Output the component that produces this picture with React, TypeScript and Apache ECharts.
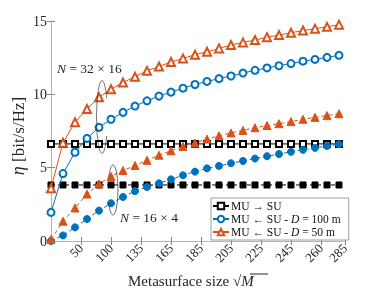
import React, { useEffect, useRef } from "react";
import * as echarts from "echarts";

// sample positions along the (re-labelled) metasurface-size axis
const sampleX = [0, 10, 20, 30, 40, 50, 60, 70, 80, 90, 100, 110, 120, 130, 140, 150, 160, 170, 180, 190, 200, 210, 220, 230, 240];
const xTickValues = [25, 50, 75, 100, 125, 150, 175, 200, 225, 245];
const xTickLabels = ["50", "100", "135", "165", "185", "205", "225", "245", "260", "285"];

// N = 32 x 16
const muToSuLarge = [6.62, 6.62, 6.62, 6.62, 6.62, 6.62, 6.62, 6.62, 6.62, 6.62, 6.62, 6.62, 6.62, 6.62, 6.62, 6.62, 6.62, 6.62, 6.62, 6.62, 6.62, 6.62, 6.62, 6.62, 6.62];
const suToMu100Large = [1.95, 4.6, 6.05, 7.0, 7.75, 8.3, 8.77, 9.2, 9.56, 9.88, 10.15, 10.42, 10.67, 10.88, 11.07, 11.25, 11.45, 11.64, 11.8, 11.95, 12.1, 12.26, 12.38, 12.52, 12.66];
const suToMu50Large = [3.6, 6.7, 8.1, 9.0, 9.8, 10.35, 10.8, 11.2, 11.6, 11.9, 12.2, 12.45, 12.7, 12.9, 13.13, 13.36, 13.54, 13.7, 13.9, 14.04, 14.2, 14.35, 14.48, 14.6, 14.75];
// N = 16 x 4
const muToSuSmall = [3.82, 3.82, 3.82, 3.82, 3.82, 3.82, 3.82, 3.82, 3.82, 3.82, 3.82, 3.82, 3.82, 3.82, 3.82, 3.82, 3.82, 3.82, 3.82, 3.82, 3.82, 3.82, 3.82, 3.82, 3.82];
const suToMu100Small = [0, 0.38, 0.93, 1.5, 2.07, 2.57, 3.0, 3.4, 3.68, 3.93, 4.2, 4.48, 4.73, 4.95, 5.12, 5.3, 5.46, 5.62, 5.78, 5.93, 6.08, 6.22, 6.35, 6.48, 6.6];
const suToMu50Small = [0.1, 1.35, 2.25, 3.2, 3.9, 4.4, 4.8, 5.15, 5.5, 5.85, 6.15, 6.45, 6.68, 6.95, 7.17, 7.37, 7.54, 7.72, 7.87, 8.0, 8.14, 8.3, 8.43, 8.55, 8.68];

const legendNames = ["MU → SU", "MU ← SU - D = 100 m", "MU ← SU - D = 50 m"];

const FONT = "'Liberation Serif', 'Times New Roman', serif";
const BLUE = "#0072BD";
const ORANGE = "#D95319";
const BLACK = "#000000";
const AXIS = "#b3b3b3";
const TXT = "#262626";

const pairs = (ys: number[]) => ys.map((y, i) => [sampleX[i], y]);

export default function App() {
  const ref = useRef<HTMLDivElement>(null);
  useEffect(() => {
    if (!ref.current) return;
    const chart = echarts.init(ref.current, undefined, { renderer: "svg" });
    const lbl = (v: number) => {
      const i = xTickValues.indexOf(v);
      return i >= 0 ? xTickLabels[i] : "";
    };
    const mkSeries = (name: string, ys: number[], color: string, symbol: string, size: number, dashed: boolean, z: number) => ({
      name,
      type: "line",
      data: pairs(ys),
      symbol,
      symbolSize: size,
      showSymbol: true,
      z,
      lineStyle: { color, width: 1, type: dashed ? [4, 3] : "solid" },
      itemStyle: { color, borderColor: color, borderWidth: 1 },
      emphasis: { disabled: true },
      silent: true,
    });
    const italic = (size: number) => ({ fontFamily: FONT, fontSize: size, fontStyle: "italic", fill: TXT, color: TXT });
    const axisCommon = {
      axisLine: { show: true, lineStyle: { color: AXIS, width: 1 } },
      splitLine: { show: false },
    };
    const option: any = {
      animation: false,
      textStyle: { fontFamily: FONT },
      grid: { left: 51, right: 29, top: 21, bottom: 52 },
      xAxis: [
        {
          type: "value",
          min: 0,
          max: 245,
          position: "bottom",
          ...axisCommon,
          axisTick: { show: true, inside: true, length: 4, customValues: xTickValues, lineStyle: { color: "#888" } },
          axisLabel: {
            customValues: xTickValues,
            formatter: lbl,
            rotate: 45,
            fontSize: 13,
            fontFamily: FONT,
            color: TXT,
            margin: 5,
          },
        },
        {
          type: "value",
          min: 0,
          max: 245,
          position: "top",
          ...axisCommon,
          axisTick: { show: true, inside: true, length: 4, customValues: xTickValues, lineStyle: { color: "#888" } },
          axisLabel: { show: false },
        },
      ],
      yAxis: [
        {
          type: "value",
          min: 0,
          max: 15,
          interval: 5,
          position: "left",
          ...axisCommon,
          axisTick: { show: true, inside: true, length: 4, lineStyle: { color: "#888" } },
          axisLabel: { fontSize: 14, fontFamily: FONT, color: TXT, margin: 4 },
        },
        {
          type: "value",
          min: 0,
          max: 15,
          interval: 5,
          position: "right",
          ...axisCommon,
          axisTick: { show: true, inside: true, length: 4, lineStyle: { color: "#888" } },
          axisLabel: { show: false },
        },
      ],
      legend: {
        data: legendNames,
        orient: "vertical",
        left: 211,
        top: 198,
        itemGap: 1,
        itemWidth: 16,
        itemHeight: 8,
        padding: [2, 8, 2, 1],
        backgroundColor: "#fff",
        borderColor: "#a0a0a0",
        borderWidth: 1,
        borderRadius: 0,
        selectedMode: false,
        formatter: (n: string) => n.replace(" D ", " {i|D} "),
        textStyle: {
          fontFamily: FONT,
          fontSize: 11.5,
          color: "#111",
          padding: [0, 0, 0, -3],
          rich: { i: { ...italic(11.5), color: "#111" } },
        },
      },
      series: [
        mkSeries(legendNames[0], muToSuLarge, BLACK, "emptyRect", 6, false, 2),
        mkSeries("MU → SU (16×4)", muToSuSmall, BLACK, "rect", 6, true, 2),
        mkSeries(legendNames[1], suToMu100Large, BLUE, "emptyCircle", 7, false, 3),
        mkSeries("MU ← SU 100 (16×4)", suToMu100Small, BLUE, "circle", 7, true, 3),
        mkSeries(legendNames[2], suToMu50Large, ORANGE, "emptyTriangle", 8, false, 4),
        mkSeries("MU ← SU 50 (16×4)", suToMu50Small, ORANGE, "triangle", 8, true, 4),
      ],
      graphic: [
        {
          type: "text",
          x: 18,
          y: 136,
          rotation: Math.PI / 2,
          style: {
            text: "{i|η} [bit/s/Hz]",
            fontFamily: FONT,
            fontSize: 17,
            fill: TXT,
            align: "center",
            verticalAlign: "middle",
            rich: { i: italic(18) },
          },
        },
        {
          type: "text",
          x: 128,
          y: 273,
          style: {
            text: "Metasurface size √{i|M}",
            fontFamily: FONT,
            fontSize: 15,
            fill: TXT,
            align: "left",
            verticalAlign: "top",
            rich: { i: italic(15) },
          },
        },
        { type: "line", shape: { x1: 250, y1: 274, x2: 268, y2: 274 }, style: { stroke: TXT, lineWidth: 1 } },
        {
          type: "text",
          x: 57,
          y: 61,
          style: {
            text: "{i|N} = 32 × 16",
            fontFamily: FONT,
            fontSize: 13.5,
            fill: TXT,
            align: "left",
            verticalAlign: "top",
            rich: { i: italic(13.5) },
          },
        },
        {
          type: "text",
          x: 120,
          y: 210,
          style: {
            text: "{i|N} = 16 × 4",
            fontFamily: FONT,
            fontSize: 13.5,
            fill: TXT,
            align: "left",
            verticalAlign: "top",
            rich: { i: italic(13.5) },
          },
        },
        {
          type: "arc",
          x: 102,
          y: 117,
          scaleX: 5.5 / 36.5,
          shape: { cx: 0, cy: 0, r: 36.5, startAngle: 0.55, endAngle: Math.PI * 2 - 0.55, clockwise: true },
          style: { stroke: "#111", lineWidth: 1, fill: "none", strokeNoScale: true },
          z: 10,
        },
        {
          type: "arc",
          x: 113,
          y: 190,
          scaleX: 5 / 25,
          shape: { cx: 0, cy: 0, r: 25, startAngle: -Math.PI + 0.55, endAngle: Math.PI - 0.55, clockwise: true },
          style: { stroke: "#111", lineWidth: 1, fill: "none", strokeNoScale: true },
          z: 10,
        },
      ],
    };
    chart.setOption(option);
    return () => chart.dispose();
  }, []);
  return <div ref={ref} style={{ position: "fixed", left: 0, top: 0, width: 374, height: 293 }} />;
}
